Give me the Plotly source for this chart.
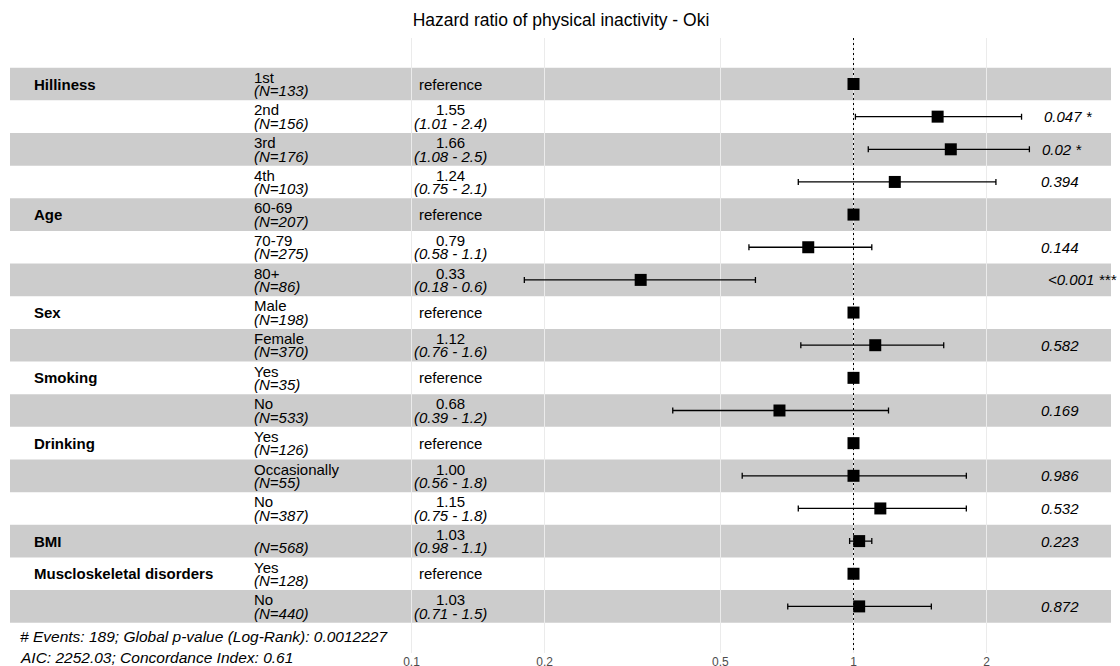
import math
import plotly.graph_objects as go

# ---------------- data ----------------
title_text = "Hazard ratio of physical inactivity - Oki"
row_var = ["Hilliness", "", "", "", "Age", "", "", "Sex", "", "Smoking", "",
           "Drinking", "", "", "BMI", "Muscloskeletal disorders", ""]
levels = ["1st", "2nd", "3rd", "4th", "60-69", "70-79", "80+", "Male", "Female",
          "Yes", "No", "Yes", "Occasionally", "No", "", "Yes", "No"]
n_obs = [133, 156, 176, 103, 207, 275, 86, 198, 370, 35, 533, 126, 55, 387, 568, 128, 440]
hr = [1, 1.55, 1.66, 1.24, 1, 0.79, 0.33, 1, 1.12, 1, 0.68, 1, 1.00, 1.15, 1.03, 1, 1.03]
ci_lo = [None, 1.01, 1.08, 0.75, None, 0.58, 0.18, None, 0.76, None, 0.39, None,
         0.56, 0.75, 0.98, None, 0.71]
ci_hi = [None, 2.4, 2.5, 2.1, None, 1.1, 0.6, None, 1.6, None, 1.2, None,
         1.8, 1.8, 1.1, None, 1.5]
p_text = ["", "0.047 *", "0.02 *", "0.394", "", "0.144", "<0.001 ***", "", "0.582", "",
          "0.169", "", "0.986", "0.532", "0.223", "", "0.872"]
footer1 = "# Events: 189; Global p-value (Log-Rank): 0.0012227"
footer2 = "AIC: 2252.03; Concordance Index: 0.61"
tick_vals = [0.1, 0.2, 0.5, 1, 2]
tick_text = ["0.1", "0.2", "0.5", "1", "2"]

# ---------------- geometry ----------------
W, H = 1120, 666
PT, PB = 38, 653           # plot area top / bottom (px)
ROW0, ROWH = 84, 32.65     # first row centre, row height (px)
X1_PX, DEC_PX = 853.5, 442  # pixel of HR=1, pixels per decade
FONT = "Liberation Sans, Arial, sans-serif"
FS = 15


def px_x(p):
    return p / W


def px_y(p):
    return (PB - p) / (PB - PT)


rows = list(range(len(levels)))
y_top = (PT - ROW0) / ROWH
y_bot = (PB - ROW0) / ROWH
x_lo_log = (0 - X1_PX) / DEC_PX
x_hi_log = (W - X1_PX) / DEC_PX

fig = go.Figure()

# alternating bands
for r in rows:
    if r % 2 == 0:
        fig.add_shape(type="rect", xref="paper", yref="y",
                      x0=px_x(10), x1=px_x(1111), y0=r - 0.5, y1=r + 0.5,
                      fillcolor="rgba(0,0,0,0.2)", line_width=0, layer="between")

# reference line at HR = 1
fig.add_trace(go.Scatter(x=[1, 1], y=[y_top, y_bot], mode="lines",
                         line=dict(color="black", width=1, dash="2px,3px"),
                         hoverinfo="skip", showlegend=False))

# estimates with CI
est_rows = [r for r in rows if ci_lo[r] is not None]
fig.add_trace(go.Scatter(
    x=[hr[r] for r in est_rows], y=est_rows, mode="markers",
    marker=dict(symbol="square", size=12, color="black"),
    error_x=dict(type="data", symmetric=False,
                 array=[ci_hi[r] - hr[r] for r in est_rows],
                 arrayminus=[hr[r] - ci_lo[r] for r in est_rows],
                 color="black", thickness=1.3, width=3),
    showlegend=False))

# reference levels
ref_rows = [r for r in rows if ci_lo[r] is None]
fig.add_trace(go.Scatter(
    x=[hr[r] for r in ref_rows], y=ref_rows, mode="markers",
    marker=dict(symbol="square", size=12, color="black"), showlegend=False))

ann = []
font = dict(family=FONT, size=FS, color="black")
for r in rows:
    if row_var[r]:
        ann.append(dict(x=px_x(32), y=r, xref="paper", yref="y", xanchor="left",
                        yanchor="middle", text="<b>" + row_var[r] + "</b>",
                        showarrow=False, font=font))
    if levels[r]:
        ann.append(dict(x=px_x(252), y=r, xref="paper", yref="y", xanchor="left",
                        yanchor="middle", yshift=6.7, text=levels[r],
                        showarrow=False, font=font))
    ann.append(dict(x=px_x(252), y=r, xref="paper", yref="y", xanchor="left",
                    yanchor="middle", yshift=-6.7, text="<i>(N=%d)</i>" % n_obs[r],
                    showarrow=False, font=font))
    if ci_lo[r] is None:
        ann.append(dict(x=px_x(450), y=r, xref="paper", yref="y", xanchor="center",
                        yanchor="middle", text="reference", showarrow=False, font=font))
    else:
        ann.append(dict(x=px_x(450), y=r, xref="paper", yref="y", xanchor="center",
                        yanchor="middle", yshift=6.7, text="%.2f" % hr[r],
                        showarrow=False, font=font))
        ann.append(dict(x=px_x(450), y=r, xref="paper", yref="y", xanchor="center",
                        yanchor="middle", yshift=-6.7,
                        text="<i>(%.2f - %.1f)</i>" % (ci_lo[r], ci_hi[r]),
                        showarrow=False, font=font))
    if p_text[r]:
        ann.append(dict(x=px_x(1031), y=r, xref="paper", yref="y", xanchor="left",
                        yanchor="middle", xshift=0.2 * 7.5 * len(p_text[r]),
                        text="<i>" + p_text[r] + "</i>", showarrow=False, font=font))

ffont = dict(family=FONT, size=15.5, color="black")
ann.append(dict(x=px_x(18), y=px_y(636), xref="paper", yref="paper", xanchor="left",
                yanchor="middle", text="<i>" + footer1 + "</i>", showarrow=False, font=ffont))
ann.append(dict(x=px_x(18), y=px_y(657), xref="paper", yref="paper", xanchor="left",
                yanchor="middle", text="<i>" + footer2 + "</i>", showarrow=False, font=ffont))

fig.update_layout(
    width=W, height=H,
    margin=dict(l=0, r=0, t=PT, b=H - PB, pad=0),
    paper_bgcolor="white", plot_bgcolor="white",
    title=dict(text=title_text, x=561 / W, xanchor="center", y=1 - 20 / H,
               yanchor="middle", yref="container",
               font=dict(family=FONT, size=17.5, color="black")),
    xaxis=dict(type="log", range=[x_lo_log, x_hi_log], tickvals=tick_vals,
               ticktext=tick_text, showgrid=True, gridcolor="#EBEBEB", gridwidth=1,
               zeroline=False, showline=False, ticks="", automargin=False,
               tickfont=dict(family=FONT, size=12, color="#4D4D4D")),
    yaxis=dict(range=[y_bot, y_top], showgrid=False, zeroline=False,
               showticklabels=False, showline=False, ticks="", automargin=False),
    annotations=ann,
    showlegend=False,
)

fig.write_html("out.html", config={"displayModeBar": False},
               post_script="document.body.style.margin='0';document.body.style.padding='0';document.body.style.overflow='hidden';")
